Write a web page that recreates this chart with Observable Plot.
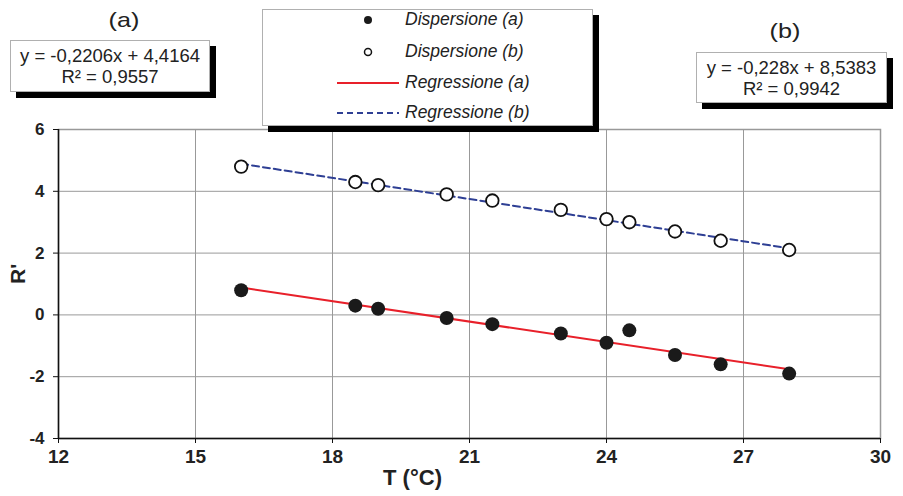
<!DOCTYPE html>
<html><head><meta charset="utf-8">
<script src="https://cdn.jsdelivr.net/npm/d3@7"></script>
<script src="https://cdn.jsdelivr.net/npm/@observablehq/plot@0.6"></script>
<style>
body{margin:0;background:#fff;}
#wrap{position:relative;width:903px;height:496px;font-family:"Liberation Sans",Arial,sans-serif;color:#222;overflow:hidden;}
#wrap > svg{position:absolute;left:0;top:0;}
.box{position:absolute;background:#fff;border:1px solid #b0b0b0;box-shadow:6px 6px 0 #000;box-sizing:border-box;}
.eq{text-align:center;font-size:18.5px;line-height:21px;padding-top:4px;white-space:nowrap;}
.tag{position:absolute;font-size:21px;transform:translate(-50%,-50%) scaleX(1.2);}
.leg{position:absolute;font-style:italic;font-size:17.5px;white-space:nowrap;}
</style></head><body><div id="wrap"></div>
<script>
const temps=[16,18.5,19,20.5,21.5,23,24,24.5,25.5,26.5,28];
const seriesA=[0.8,0.3,0.2,-0.1,-0.3,-0.6,-0.9,-0.5,-1.3,-1.6,-1.9];
const seriesB=[4.8,4.3,4.2,3.9,3.7,3.4,3.1,3.0,2.7,2.4,2.1];
const fitA={slope:-0.2206,intercept:4.4164,r2:"0,9557",eq:"y = -0,2206x + 4,4164"};
const fitB={slope:-0.228,intercept:8.5383,r2:"0,9942",eq:"y = -0,228x + 8,5383"};
const fitRange=[16,28];
const xTicks=[12,15,18,21,24,27,30];
const yTicks=[-4,-2,0,2,4,6];
const legendLabels=["Dispersione (a)","Dispersione (b)","Regressione (a)","Regressione (b)"];

const ptsA=temps.map((t,i)=>({t,v:seriesA[i]}));
const ptsB=temps.map((t,i)=>({t,v:seriesB[i]}));
const lineA=fitRange.map(t=>({t,v:fitA.slope*t+fitA.intercept}));
const lineB=fitRange.map(t=>({t,v:fitB.slope*t+fitB.intercept}));
const fmt=d=>String(d);
const blank=()=>"";

const plot=Plot.plot({
  width:903,height:496,
  marginLeft:58,marginRight:23,marginTop:129,marginBottom:58,
  x:{domain:[12,30]},
  y:{domain:[-4,6]},
  style:{fontFamily:"'Liberation Sans',Arial,sans-serif",background:"transparent"},
  marks:[
    Plot.gridX(xTicks,{stroke:"#999",strokeOpacity:1,strokeWidth:1}),
    Plot.gridY(yTicks,{stroke:"#999",strokeOpacity:1,strokeWidth:1}),
    Plot.frame({stroke:"#999",strokeWidth:1.5}),
    Plot.ruleX([12],{stroke:"#111",strokeWidth:1.5}),
    Plot.ruleY([-4],{stroke:"#111",strokeWidth:1.5}),
    Plot.axisX(xTicks,{tickSize:5,tickFormat:blank,label:null,stroke:"#111"}),
    Plot.axisY(yTicks,{tickSize:5,tickFormat:blank,label:null,stroke:"#111"}),
    Plot.text(xTicks,{x:d=>d,text:fmt,frameAnchor:"bottom",dy:11,lineAnchor:"top",fontSize:19,fontWeight:"bold",fill:"#222"}),
    Plot.text(yTicks,{y:d=>d,text:fmt,frameAnchor:"left",dx:-14,textAnchor:"end",fontSize:17,fontWeight:"bold",fill:"#222"}),
    Plot.line(lineA,{x:"t",y:"v",stroke:"#e8202a",strokeWidth:2}),
    Plot.line(lineB,{x:"t",y:"v",stroke:"#2e3f94",strokeWidth:2,strokeDasharray:"7,4"}),
    Plot.dot(ptsA,{x:"t",y:"v",r:7,fill:"#1a1a1a",stroke:"none"}),
    Plot.dot(ptsB,{x:"t",y:"v",r:6.3,fill:"#fff",stroke:"#111",strokeWidth:1.8}),
    Plot.text(["T (°C)"],{frameAnchor:"bottom",dx:-57,dy:46,fontSize:22,fontWeight:"bold",fill:"#222"}),
    Plot.text(["R'"],{frameAnchor:"left",dx:-40,rotate:-90,fontSize:21,fontWeight:"bold",fill:"#222"})
  ]
});
const wrap=document.getElementById("wrap");
wrap.appendChild(plot);

function addTag(txt,x,y){const d=document.createElement("div");d.className="tag";d.style.left=x+"px";d.style.top=y+"px";d.textContent=txt;wrap.appendChild(d);}
addTag("(a)",124,20);
addTag("(b)",785,31);

function addEq(fit,l,t,w,h){
  const b=document.createElement("div");b.className="box eq";
  Object.assign(b.style,{left:l+"px",top:t+"px",width:w+"px",height:h+"px"});
  const a=document.createElement("div");a.textContent=fit.eq;
  const c=document.createElement("div");c.textContent="R² = "+fit.r2;
  b.appendChild(a);b.appendChild(c);wrap.appendChild(b);
}
addEq(fitA,10,40,200,52);
addEq(fitB,696,52,191,51);

// legend
const lg=document.createElement("div");lg.className="box";
Object.assign(lg.style,{left:"262px",top:"9px",width:"331px",height:"117px"});
wrap.appendChild(lg);
const ns="http://www.w3.org/2000/svg";
const sv=document.createElementNS(ns,"svg");
sv.setAttribute("width",331);sv.setAttribute("height",117);
sv.style.position="absolute";sv.style.left="0";sv.style.top="0";
lg.appendChild(sv);
const rows=[10,42,73,103];
function el(tag,attrs){const e=document.createElementNS(ns,tag);for(const k in attrs)e.setAttribute(k,attrs[k]);sv.appendChild(e);}
el("circle",{cx:105,cy:rows[0],r:4,fill:"#1a1a1a"});
el("circle",{cx:105,cy:rows[1],r:3.5,fill:"#fff",stroke:"#111","stroke-width":1.5});
el("line",{x1:74,x2:136,y1:rows[2],y2:rows[2],stroke:"#e8202a","stroke-width":2});
el("line",{x1:74,x2:136,y1:rows[3],y2:rows[3],stroke:"#2e3f94","stroke-width":2,"stroke-dasharray":"6,4"});
legendLabels.forEach((s,i)=>{
  const d=document.createElement("div");d.className="leg";d.textContent=s;
  Object.assign(d.style,{left:"142px",top:(rows[i]-11)+"px"});
  lg.appendChild(d);
});
</script>
</body></html>
